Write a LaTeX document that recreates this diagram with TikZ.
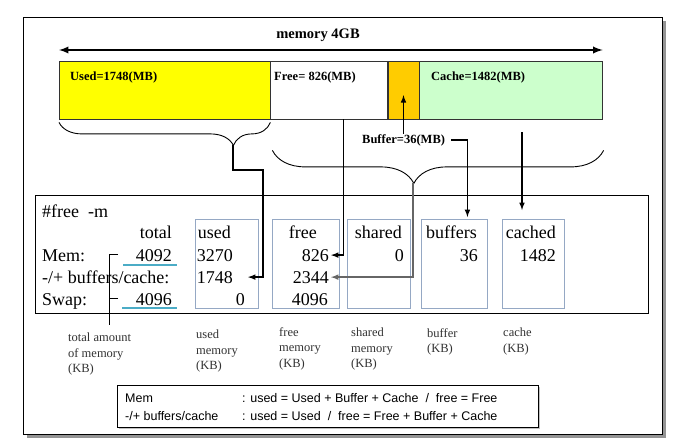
\documentclass[tikz,border=0pt]{standalone}
\usepackage{fontspec}
\setmainfont{Liberation Serif}
\setsansfont{Liberation Sans}
\usepackage{xcolor}
\usetikzlibrary{decorations.pathreplacing,shadows}

\definecolor{usedyellow}{RGB}{255,255,0}
\definecolor{bufferorange}{RGB}{255,204,0}
\definecolor{cachegreen}{RGB}{204,255,204}
\definecolor{colblue}{RGB}{149,168,196}
\definecolor{lineteal}{RGB}{75,172,198}

\begin{document}
\begin{tikzpicture}
    [x=1pt,y=-1pt,>=latex,
     bar/.style={draw=black!80,anchor=north west,minimum height=58pt,inner sep=0pt},
     barlabel/.style={anchor=base west,inner sep=0pt,font=\bfseries\fontsize{12.5}{15}\selectfont},
     colbox/.style={draw=colblue,line width=0.9pt,anchor=north west,minimum height=89pt,inner sep=0pt},
     cell/.style={anchor=base east,inner sep=2pt,font=\fontsize{18}{21}\selectfont},
     rowname/.style={anchor=base west,inner sep=0pt,font=\fontsize{18}{21}\selectfont},
     note/.style={anchor=north west,align=left,inner sep=0pt,text=black!80,font=\fontsize{12.5}{15.5}\selectfont},
     defn/.style={anchor=base west,inner sep=0pt,font=\sffamily\fontsize{12.5}{15}\selectfont},
     link/.style={->,line width=1.5pt}]
\useasboundingbox (0,0) rectangle (688,447);
% outer frame
\node [draw,line width=1pt,fill=white,anchor=north west,minimum width=639pt,minimum height=417pt,
    drop shadow={shadow xshift=3pt,shadow yshift=-3pt,fill=black!60,opacity=0.7}] (frame) at (23,17) {};
% memory bar
\path
    (59,61) node [bar,minimum width=211pt,fill=usedyellow] (used) {}
    (used.north east) node [bar,minimum width=117pt,fill=white] (free) {}
    (free.north east) node [bar,minimum width=31pt,fill=bufferorange] (buffer) {}
    (buffer.north east) node [bar,minimum width=183pt,fill=cachegreen] (cache) {};
\node [barlabel] (usedlbl) at (70,80) {Used=1748(MB)};
\node [barlabel] (freelbl) at (274,80) {Free= 826(MB)};
\node [barlabel] (cachelbl) at (431,80) {Cache=1482(MB)};
\node [barlabel] (buflbl) at (362,143) {Buffer=36(MB)};
\node [anchor=base,font=\bfseries\fontsize{14.5}{17}\selectfont] (memlbl) at (318,38) {memory 4GB};
\draw [<->,line width=2.2pt] ([yshift=11pt]used.north west) -- ([yshift=11pt]cache.north east);
% braces
\draw [line width=0.9pt,decorate,decoration={brace,mirror,amplitude=23pt,aspect=0.825}]
    ([yshift=-3pt]used.south west) -- ([yshift=-3pt]used.south east);
\draw [line width=0.9pt,decorate,decoration={brace,mirror,amplitude=33pt,aspect=0.427}]
    ([xshift=2pt,yshift=-31pt]free.south west) -- ([xshift=1pt,yshift=-31pt]cache.south east);
\coordinate (usedtip) at (233,145);
\coordinate (usedbend) at (263,170);
\coordinate (freetip) at (413,183);
\coordinate (cachetap) at (522,132);
% output of free -m
\node [draw,line width=0.8pt,anchor=north west,minimum width=613pt,minimum height=118pt,inner sep=0pt] (output) at (35,195) {};
\node [colbox,minimum width=63pt] (usedbox) at (195,219) {};
\node [colbox,minimum width=67pt] (freebox) at (272,219) {};
\node [colbox,minimum width=63pt] (sharedbox) at (347,219) {};
\node [colbox,minimum width=66pt] (bufbox) at (421,219) {};
\node [colbox,minimum width=62pt] (cachedbox) at (502,219) {};
\node [rowname] (cmd) at (42,217) {\#free\ \ -m};
\node [rowname] (memrow) at (42,261) {Mem:};
\node [rowname] (bcrow) at (42,283) {-/+ buffers/cache:};
\node [rowname] (swaprow) at (42,305) {Swap:};
\node [cell] (tothead) at (174,238) {total};
\node [cell] (memtot) at (174,261) {4092};
\node [cell] (swaptot) at (174,305) {4096};
\node [cell] (usedhead) at (233,238) {used};
\node [cell] (memused) at (235,261) {3270};
\node [cell] (bcused) at (235,283) {1748};
\node [cell] (swapused) at (247,305) {0};
\node [cell] (freehead) at (319,238) {free};
\node [cell] (memfree) at (331,261) {826};
\node [cell] (bcfree) at (331,283) {2344};
\node [cell] (swapfree) at (330,305) {4096};
\node [cell] (sharedhead) at (404,238) {shared};
\node [cell] (memshared) at (406,261) {0};
\node [cell] (bufhead) at (479,238) {buffers};
\node [cell] (membuf) at (480,261) {36};
\node [cell] (cachedhead) at (558,238) {cached};
\node [cell] (memcached) at (558,261) {1482};
\draw [lineteal,line width=1.3pt] (123,265) -- (177,265);
\draw [lineteal,line width=1.3pt] (122,308) -- (177,308);
% connectors
\draw [link] (buflbl.north -| buffer.south) -- ([yshift=-5pt]buffer.center);
\draw [link,shorten >=2pt] ([xshift=6pt]buflbl.east) -| ([xshift=13pt]bufbox.north);
\draw [link,shorten >=9pt] (cachetap) -- (cachetap |- cachedbox.north);
\draw [link] ([xshift=14.5pt]free.south) |- (memfree.east);
\draw [link,shorten >=13pt] (usedtip) |- (usedbend) |- (bcused.east);
\draw [link,black!60] (freetip) |- (bcfree.east);
% total column
\coordinate (memtick) at (118,254);
\coordinate (swaptick) at (118,298);
\coordinate (totend) at (109,325);
\draw [line width=1pt] (memtick) -| (totend);
\draw [line width=1pt] (swaptick) -- (swaptick -| totend);
% notes
\node [note] (totnote) at (68,333) {total amount\\of memory\\(KB)};
\node [note] (usednote) at (196,330) {used\\memory\\(KB)};
\node [note] (freenote) at (279,327) {free\\memory\\(KB)};
\node [note] (sharednote) at (351,328) {shared\\memory\\(KB)};
\node [note] (bufnote) at (427,328) {buffer\\(KB)};
\node [note] (cachenote) at (503,328) {cache\\(KB)};
% definitions
\node [draw,line width=0.9pt,fill=white,anchor=north west,minimum width=421pt,minimum height=42pt,inner sep=0pt,
    drop shadow={shadow xshift=1.5pt,shadow yshift=-1.5pt,fill=black!40,opacity=0.6}] (defbox) at (117,385) {};
\node [defn] (memdef) at (125,402) {Mem};
\node [defn] (memeq) at (242,402) {: used = Used + Buffer + Cache~ /~ free = Free};
\node [defn] (bcdef) at (125,420) {-/+ buffers/cache};
\node [defn] (bceq) at (242,420) {: used = Used~ /~ free = Free + Buffer + Cache};
\end{tikzpicture}
\end{document}
